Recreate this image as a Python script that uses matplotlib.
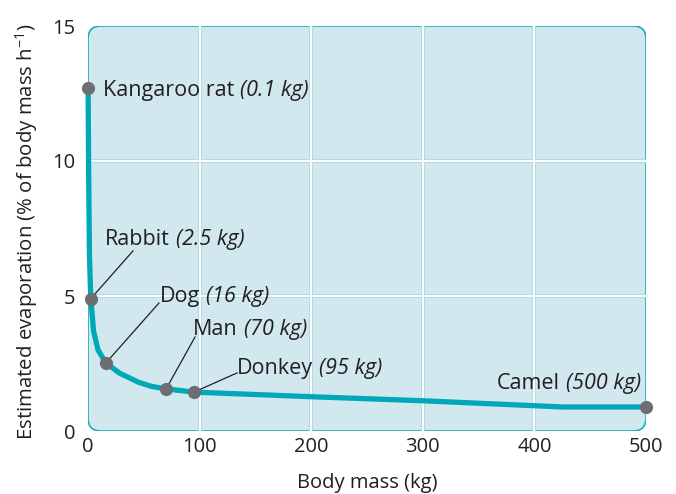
import matplotlib
matplotlib.use("Agg")
import matplotlib.pyplot as plt
from matplotlib.patches import FancyBboxPatch
from matplotlib.transforms import ScaledTranslation

plt.rcParams["font.family"] = ["Open Sans", "DejaVu Sans"]
plt.rcParams["mathtext.fontset"] = "custom"
plt.rcParams["mathtext.rm"] = "Open Sans"
plt.rcParams["mathtext.it"] = "Open Sans:italic"
plt.rcParams["mathtext.bf"] = "Open Sans:bold"

# Animals, their body mass and estimated evaporation rate
animals = ["Kangaroo rat", "Rabbit", "Dog", "Man", "Donkey", "Camel"]
mass_text = ["0.1 kg", "2.5 kg", "16 kg", "70 kg", "95 kg", "500 kg"]
mass_kg = [0.1, 2.5, 16, 70, 95, 500]
evaporation = [12.7, 4.9, 2.52, 1.56, 1.44, 0.89]

# Vertices of the fitted trend curve
curve_mass = [0.1, 0.6, 1.3, 2.5, 5, 9, 16, 28, 45, 57, 70, 95, 200, 300, 425, 500]
curve_evap = [12.7, 9.5, 6.5, 4.9, 3.7, 3.0, 2.52, 2.15, 1.81, 1.65, 1.56, 1.44,
              1.27, 1.12, 0.89, 0.89]

xticks = [0, 100, 200, 300, 400, 500]
yticks = [0, 5, 10, 15]

# Label placement (data coords, text baseline), alignment, leader end point
label_pos = [(13.4, 12.41), (15.2, 6.89), (64.5, 4.79), (94.4, 3.56), (133.2, 2.11), (495.5, 1.56)]
label_ha = ["left", "left", "left", "left", "left", "right"]
leader_end = [None, (40.3, 6.67), (63.6, 4.74), (95.9, 3.48), (133.5, 2.15), None]

INK = "#231f20"
W, H = 676, 494
fig = plt.figure(figsize=(W / 100, H / 100), dpi=100)
ax_l, ax_b, ax_w, ax_h = 88, 63, 558, 405
ax = fig.add_axes([ax_l / W, ax_b / H, ax_w / W, ax_h / H])
ax.set_xlim(xticks[0], xticks[-1])
ax.set_ylim(yticks[0], yticks[-1])
ax.patch.set_visible(False)
for s in ax.spines.values():
    s.set_visible(False)

# Rounded panel
panel = FancyBboxPatch((0, 0), 1, 1,
                       boxstyle="round,pad=0,rounding_size=%f" % (13 / ax_w),
                       mutation_aspect=ax_w / ax_h,
                       transform=ax.transAxes, facecolor="#d0e8ee",
                       edgecolor="#1aafbe", linewidth=1.2, zorder=0)
ax.add_patch(panel)

# Grid lines
for x in xticks[1:-1]:
    ax.axvline(x, color="#aad8e0", lw=2.6, zorder=1)
    ax.axvline(x, color="white", lw=1.4, zorder=1.1)
for y in yticks[1:-1]:
    ax.axhline(y, color="#aad8e0", lw=2.6, zorder=1)
    ax.axhline(y, color="white", lw=1.4, zorder=1.1)

ax.set_xticks(xticks)
ax.set_yticks(yticks)
ax.tick_params(length=0, labelsize=14.5, colors=INK)
ax.tick_params(axis="x", pad=4.5)
ax.tick_params(axis="y", pad=9)

# Trend curve, leader lines and points
ax.plot(curve_mass, curve_evap, color="#00a8b8", lw=3.8,
        solid_capstyle="butt", solid_joinstyle="round", zorder=3, clip_on=False)

for end, mx, my in zip(leader_end, mass_kg, evaporation):
    if end is not None:
        ax.plot([mx, end[0]], [my, end[1]], color=INK, lw=0.9, zorder=4)

ax.plot(mass_kg, evaporation, "o", color="#6d6e72", ms=9.5, mew=0,
        zorder=5, clip_on=False)

# Point labels: upright name followed by the italic mass
renderer = fig.canvas.get_renderer()
gap = 6
fs = 15.5
for name, mt, pos, ha in zip(animals, mass_text, label_pos, label_ha):
    italic = "(" + mt + ")"
    if ha == "left":
        t1 = ax.text(pos[0], pos[1], name, ha="left", va="baseline",
                     fontsize=fs, color=INK, zorder=6)
        w = t1.get_window_extent(renderer).width
        off = ScaledTranslation((w + gap) / fig.dpi, 0, fig.dpi_scale_trans)
        ax.text(pos[0], pos[1], italic, ha="left", va="baseline", style="italic",
                fontsize=fs, color=INK, zorder=6, transform=ax.transData + off)
    else:
        t2 = ax.text(pos[0], pos[1], italic, ha="right", va="baseline",
                     style="italic", fontsize=fs, color=INK, zorder=6)
        w = t2.get_window_extent(renderer).width
        off = ScaledTranslation(-(w + gap) / fig.dpi, 0, fig.dpi_scale_trans)
        ax.text(pos[0], pos[1], name, ha="right", va="baseline",
                fontsize=fs, color=INK, zorder=6, transform=ax.transData + off)

ax.set_xlabel("Body mass (kg)", fontsize=14.5, color=INK)
ax.xaxis.set_label_coords(0.5, ((H - 488) - ax_b) / ax_h)
ax.xaxis.label.set_va("baseline")

ax.set_ylabel(r"Estimated evaporation (% of body mass h$^{-1}$)", fontsize=14.7,
              color=INK)
ylab = ax.yaxis.label
ylab.set_rotation_mode("anchor")
ylab.set_va("baseline")
ylab.set_ha("center")
ax.yaxis.set_label_coords((33 - ax_l) / ax_w, ((H - 232) - ax_b) / ax_h)

fig.savefig("out.png", dpi=100)
